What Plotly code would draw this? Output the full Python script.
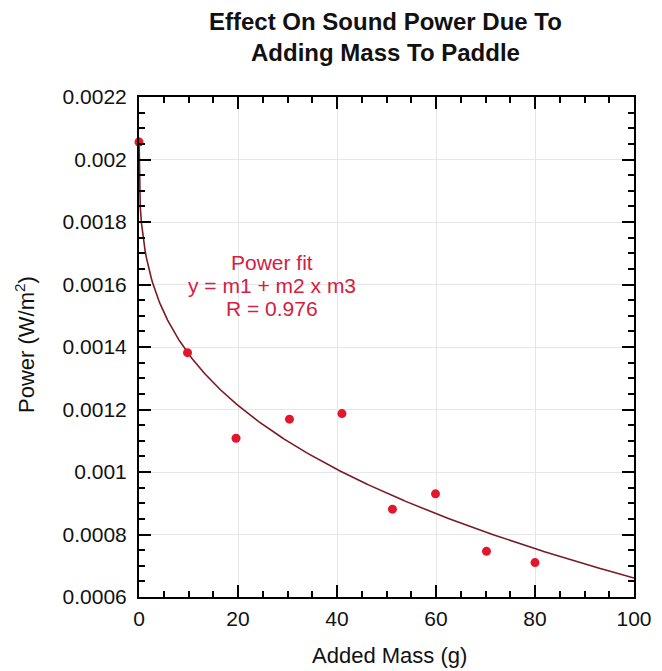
import numpy as np
import plotly.graph_objects as go

# Data
added_mass = [0, 9.8, 19.6, 30.4, 41, 51.2, 59.9, 70.2, 80]
power = [0.002056, 0.001382, 0.001108, 0.001169, 0.001187, 0.000881, 0.00093, 0.000746, 0.00071]

# Power fit parameters y = m1 + m2 * x^m3 (estimated from the drawn curve)
m1 = 0.00207
m2 = -0.0003396
m3 = 0.309

y_tickvals = [0.0006, 0.0008, 0.001, 0.0012, 0.0014, 0.0016, 0.0018, 0.002, 0.0022]
y_ticktext = ["0.0006", "0.0008", "0.001", "0.0012", "0.0014", "0.0016", "0.0018", "0.002", "0.0022"]
x_tickvals = [0, 20, 40, 60, 80, 100]

title_lines = ["Effect On Sound Power Due To", "Adding Mass To Paddle"]
fit_lines = ["Power fit", "y = m1 + m2 x m3", "R = 0.976"]
x_title = "Added Mass (g)"
y_title = "Power (W/m<sup>2</sup>)"

fit_x = np.linspace(0, 100, 401)
fit_y = m1 + m2 * fit_x ** m3

fig = go.Figure()
fig.add_trace(go.Scatter(x=fit_x, y=fit_y, mode="lines",
                         line=dict(color="#7a1a22", width=1.6), hoverinfo="skip"))
fig.add_trace(go.Scatter(x=added_mass, y=power, mode="markers",
                         marker=dict(color="#e3172b", size=9), cliponaxis=False))

font = "Liberation Sans, Arial, Helvetica, sans-serif"

# fit legend text, three lines with tight spacing
for txt, yv in zip(fit_lines, [0.001672, 0.0015984, 0.0015248]):
    fig.add_annotation(x=26.8, y=yv, xref="x", yref="y", text=txt,
                       showarrow=False, xanchor="center", yanchor="middle",
                       font=dict(family=font, size=21, color="#d5203f"))

# title (two lines in one text)
fig.add_annotation(x=0.497, y=1.121, xref="paper", yref="paper",
                   text="<b>" + "<br>".join(title_lines) + "</b>",
                   showarrow=False, xanchor="center", yanchor="middle", align="center",
                   font=dict(family=font, size=24, color="#111111"))

# axis titles
fig.add_annotation(x=0.507, y=-0.118, xref="paper", yref="paper", text=x_title,
                   showarrow=False, xanchor="center", yanchor="middle",
                   font=dict(family=font, size=22, color="#111111"))
fig.add_annotation(x=-0.2303, y=0.504, xref="paper", yref="paper", text=y_title,
                   textangle=-90, showarrow=False, xanchor="center", yanchor="middle",
                   font=dict(family=font, size=22, color="#111111"))

axis_common = dict(showline=True, linecolor="black", linewidth=2, mirror="ticks",
                   ticks="inside", ticklen=12, tickwidth=2, tickcolor="black",
                   showgrid=True, gridcolor="#e6e6e6", gridwidth=1, zeroline=False,
                   automargin=False,
                   tickfont=dict(family=font, size=21, color="#111111"))

fig.update_xaxes(range=[0, 100], tickvals=x_tickvals, ticklabelstandoff=2,
                 minor=dict(dtick=5, ticks="inside", ticklen=6, tickwidth=2, tickcolor="black", showgrid=False),
                 **axis_common)
fig.update_yaxes(range=[0.0006, 0.0022], tickvals=y_tickvals, ticktext=y_ticktext, ticklabelstandoff=6,
                 minor=dict(dtick=0.00005, ticks="inside", ticklen=6, tickwidth=2, tickcolor="black", showgrid=False),
                 **axis_common)

fig.update_layout(
    width=662, height=671,
    margin=dict(l=139, r=28, t=97, b=74),
    paper_bgcolor="white", plot_bgcolor="white",
    showlegend=False,
)

fig.write_html("out.html")
